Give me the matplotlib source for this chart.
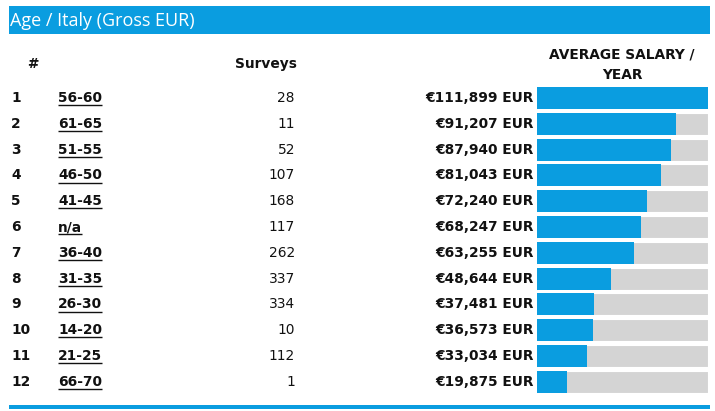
import matplotlib.pyplot as plt
from matplotlib.patches import Rectangle

ranks = list(range(1, 13))
ages = ['56-60', '61-65', '51-55', '46-50', '41-45', 'n/a',
        '36-40', '31-35', '26-30', '14-20', '21-25', '66-70']
surveys = [28, 11, 52, 107, 168, 117, 262, 337, 334, 10, 112, 1]
salaries = [111899, 91207, 87940, 81043, 72240, 68247,
            63255, 48644, 37481, 36573, 33034, 19875]

BLUE = '#0a9de0'
GREY = '#d4d4d4'
W, H = 715, 411
FS = 9.9

fig = plt.figure(figsize=(W / 100, H / 100), dpi=100)
fig.patch.set_facecolor('white')

# text layer in pixel coordinates
ax = fig.add_axes([0, 0, 1, 1])
ax.set_xlim(0, W)
ax.set_ylim(H, 0)
ax.axis('off')

ax.add_patch(Rectangle((9, 6), 701, 28, color=BLUE, lw=0))
ax.text(10, 20.5, 'Age / Italy (Gross EUR)', color='white', fontsize=13,
        family='Open Sans', va='center', ha='left')
ax.add_patch(Rectangle((9, 405), 701, 4, color=BLUE, lw=0))

hdr = dict(fontsize=FS, fontweight='bold', color='#111111', va='center')
ax.text(33, 64, '#', ha='center', **hdr)
ax.text(265.5, 64, 'Surveys', ha='center', **hdr)
ax.text(622, 55, 'AVERAGE SALARY /', ha='center', **hdr)
ax.text(622, 75, 'YEAR', ha='center', **hdr)

row_y0, row_dy = 98, 25.8
txt = dict(fontsize=FS, fontweight='bold', color='#111111', va='center')
age_texts = []
for i in range(len(ranks)):
    y = row_y0 + i * row_dy
    ax.text(11, y, str(ranks[i]), ha='left', **txt)
    age_texts.append(ax.text(58, y, ages[i], ha='left', **txt))
    ax.text(295, y, str(surveys[i]), ha='right',
            fontsize=FS, color='#111111', va='center')
    ax.text(534, y, f'€{salaries[i]:,} EUR', ha='right', **txt)

# underline the age labels
fig.canvas.draw()
inv = ax.transData.inverted()
for t in age_texts:
    bb = t.get_window_extent()
    (x0, yb), (x1, _) = inv.transform([[bb.x0, bb.y0], [bb.x1, bb.y1]])
    ax.plot([x0, x1], [yb + 0.2, yb + 0.2], color='#111111', lw=1.0,
            solid_capstyle='butt')

# bar layer
n = len(salaries)
top = row_y0 - row_dy / 2
bax = fig.add_axes([537 / W, 1 - (top + n * row_dy) / H,
                    171 / W, n * row_dy / H])
pos = list(range(n))
vmax = max(salaries)
bax.barh(pos, [vmax] * n, height=0.86, color=GREY, edgecolor='white', lw=0.8)
bax.barh(pos, salaries, height=0.86, color=BLUE, lw=0)
bax.set_xlim(0, vmax)
bax.set_ylim(n - 0.5, -0.5)
bax.axis('off')

fig.savefig('out.png', dpi=100)
